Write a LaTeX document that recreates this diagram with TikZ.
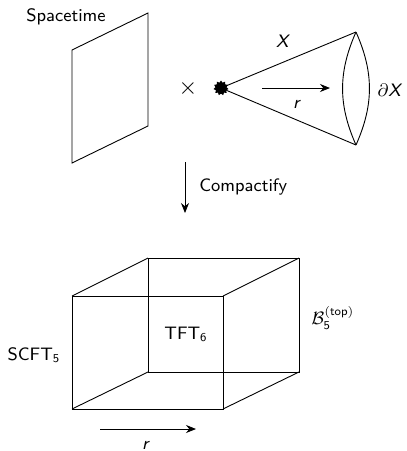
\documentclass[tikz,border=0pt]{standalone}
\usepackage{amsmath}
\usetikzlibrary{arrows.meta, positioning, shapes.geometric}
\newcommand{\sfit}[1]{\textit{#1}}

\begin{document}
\begin{tikzpicture}[
        x=0.5pt, y=-0.5pt,
        font=\sffamily\fontsize{9}{11}\selectfont,
        edge/.style={line width=0.45pt},
        arrow/.style={-{Stealth[length=5pt, width=4pt]}, line width=0.45pt},
        lbl/.style={inner sep=1pt}
    ]
        \useasboundingbox (0,0) rectangle (407,451);

        % spacetime sheet
        \node[lbl] (spacetime) at (66,17) {Spacetime};
        \coordinate (p1) at (72,50);
        \coordinate (p2) at (148,13);
        \coordinate (p3) at (148,126);
        \coordinate (p4) at (72,163);
        \draw[edge] (p1) -- (p2) -- (p3) -- (p4) -- cycle;

        \node[lbl, font=\fontsize{12}{12}\selectfont] (times) at (188,88) {$\times$};

        % cone X
        \node[star, star points=11, star point ratio=1.35, fill=black, inner sep=0pt, minimum size=7.5pt] (apex) at (221,88) {};
        \coordinate (rimtop) at (356,32);
        \coordinate (rimbot) at (356,145);
        \draw[edge] (apex.center) -- (rimtop);
        \draw[edge] (apex.center) -- (rimbot);
        \draw[edge] (rimtop) to[bend left=24] (rimbot);
        \draw[edge] (rimtop) to[bend right=24] (rimbot);
        \node[lbl] (xlbl) at (283,41) {\sfit{X}};
        \node[lbl] (dxlbl) at (390,90) {$\partial$\sfit{X}};
        \coordinate (rs) at (262,88);
        \coordinate (re) at (330,88);
        \draw[arrow] (rs) -- (re);
        \node[lbl] (rlbl) at (297,104) {\sfit{r}};

        % compactify
        \coordinate (ctop) at (185,162);
        \coordinate (cbot) at (185,213);
        \draw[arrow] (ctop) -- (cbot);
        \node[lbl, anchor=west] (compact) at (197,187) {Compactify};

        % cube
        \coordinate (f1) at (72,296);
        \coordinate (f2) at (223,296);
        \coordinate (f3) at (223,409);
        \coordinate (f4) at (72,409);
        \coordinate (b1) at (148,258);
        \coordinate (b2) at (299,258);
        \coordinate (b3) at (299,372);
        \coordinate (b4) at (148,372);
        \draw[edge] (f1) -- (f2) -- (f3) -- (f4) -- cycle;
        \draw[edge] (b1) -- (b2) -- (b3) -- (b4) -- cycle;
        \draw[edge] (f1) -- (b1);
        \draw[edge] (f2) -- (b2);
        \draw[edge] (f3) -- (b3);
        \draw[edge] (f4) -- (b4);

        \node[lbl] (tft) at (186,334) {TFT$_{\text{6}}$};
        \node[lbl] (scft) at (34,355) {SCFT$_{\text{5}}$};
        \node[lbl] (bdry) at (333,318) {$\mathcal{B}_{\text{5}}^{(\text{top})}$};

        \coordinate (cs) at (100,429);
        \coordinate (ce) at (196,429);
        \draw[arrow] (cs) -- (ce);
        \node[lbl] (rlbl2) at (146,445) {\sfit{r}};
    \end{tikzpicture}
\end{document}
